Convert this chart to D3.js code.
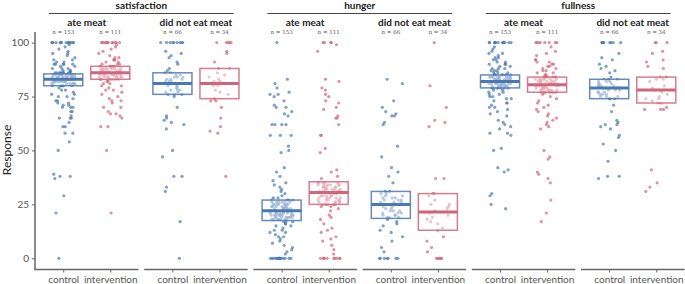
<!DOCTYPE html>
<html>
<head>
<meta charset="utf-8">
<script src="https://cdn.jsdelivr.net/npm/d3@7"></script>
<style>
  body { margin: 0; background: #fff; }
  svg { display: block; font-family: Lato, "Open Sans", sans-serif; }
</style>
</head>
<body>
<div id="chart"></div>
<script>
// values, as [response, count]
const satAteControl = [[0,1],[21,1],[29,1],[37,1],[38,2],[39,1],[50,1],[54,1],[58,2],[61,2],[63,1],[65,3],[66,1],[68,2],[70,3],[71,2],[72,2],[73,2],[74,1],[75,2],[76,2],[77,1],[78,2],[79,1],
  [80,6],[81,8],[82,10],[83,20],[84,10],[85,12],[86,10],
  [87,3],[88,3],[89,2],[90,5],[91,2],[92,2],[93,1],[94,1],[95,2],[96,1],[97,1],[98,1],[99,1],[100,14]];
const satAteInterv = [[21,1],[50,1],[61,2],[65,1],[66,1],[67,2],[68,1],[70,2],[72,1],[73,2],[74,1],[75,1],[76,1],[77,1],[78,2],[79,1],[80,2],[81,2],[82,2],
  [83,6],[84,8],[85,8],[86,12],[87,8],[88,8],[89,6],
  [90,3],[91,2],[92,3],[93,2],[94,1],[95,1],[96,1],[97,1],[98,1],[99,1],[100,12]];
const satNoControl = [[0,1],[17,1],[31,1],[33,1],[38,2],[47,1],[50,1],[60,1],[62,1],[63,1],[64,1],[65,1],[66,1],[70,1],[75,1],
  [76,3],[77,2],[78,3],[79,2],[80,3],[81,7],[82,3],[83,3],[84,3],[85,2],[86,2],
  [87,1],[88,1],[90,1],[91,1],[93,1],[94,1],[95,1],[96,1],[100,9]];
const satNoInterv = [[38,1],[58,1],[59,1],[61,1],[65,1],[70,1],[73,2],[74,1],[76,1],[77,1],[78,1],[80,2],[81,4],[82,2],[83,1],[84,1],[85,1],[86,1],[88,2],[91,1],[95,1],[96,1],[100,5]];

const hunAteControl = [[0,16],[2,1],[3,1],[4,1],[5,1],[6,1],[7,1],[8,1],[9,1],[10,2],[11,1],[12,2],[13,2],[14,1],[15,2],[16,2],[17,3],
  [18,7],[19,8],[20,10],[21,8],[22,11],[23,7],[24,7],[25,8],[26,6],[27,4],
  [28,2],[29,1],[30,1],[31,1],[32,1],[33,1],[34,1],[35,1],[36,1],[38,1],[40,1],[42,1],[49,1],[50,1],[52,1],[57,3],[62,4],[66,1],[67,1],[68,1],[70,2],[71,1],[73,1],[75,1],[76,2],[77,1],[79,1],[81,1],[83,1],[100,1]];
const hunAteInterv = [[0,10],[2,1],[4,1],[6,1],[8,1],[9,1],[10,1],[12,1],[13,1],[14,1],[16,1],[18,1],[19,1],[20,1],[22,1],[23,1],[24,2],
  [25,5],[26,5],[27,5],[28,5],[29,5],[30,4],[31,5],[32,5],[33,6],[34,6],[35,5],
  [37,1],[38,1],[40,1],[41,1],[49,1],[51,1],[57,2],[62,1],[65,2],[66,1],[69,1],[70,1],[72,1],[73,1],[75,1],[76,1],[78,1],[79,1],[82,1],[83,1],[96,1],[99,1],[100,4]];
const hunNoControl = [[0,7],[3,1],[5,1],[8,1],[10,1],[12,1],[13,1],[15,1],[16,1],[17,1],[18,1],
  [19,3],[20,3],[21,3],[22,3],[23,2],[24,2],[25,2],[26,3],[27,3],[28,3],[29,2],[30,2],[31,2],
  [35,1],[38,1],[40,1],[42,1],[47,1],[52,1],[62,1],[63,1],[66,2],[67,1],[68,1],[70,1],[73,1],[81,1],[83,1]];
const hunNoInterv = [[0,5],[3,1],[5,1],[8,1],[10,1],[13,1],[14,1],[16,1],[17,1],[18,1],[19,1],[20,1],[21,1],[22,1],[23,1],[24,1],[25,2],[27,1],[29,1],[30,2],[37,2],[61,1],[63,1],[64,1],[70,1],[80,1],[100,1]];

const fulAteControl = [[23,1],[25,1],[29,1],[30,1],[40,1],[41,1],[42,1],[50,1],[51,1],[57,1],[58,2],[60,1],[61,1],[62,1],[63,1],[64,1],[66,1],[67,1],[68,1],[69,1],[70,2],[71,1],[72,2],[73,1],[74,2],[75,2],[76,2],[77,2],[78,2],
  [79,7],[80,10],[81,11],[82,19],[83,11],[84,11],[85,8],
  [86,3],[87,3],[88,3],[89,2],[90,3],[91,2],[92,2],[93,2],[94,1],[95,2],[96,1],[97,1],[98,1],[100,13]];
const fulAteInterv = [[17,1],[21,1],[27,1],[35,1],[37,1],[39,1],[40,1],[46,1],[47,1],[50,1],[60,1],[61,1],[62,1],[63,1],[64,1],[65,1],[66,1],[67,1],[68,1],[69,1],[70,1],[71,1],[72,1],[73,1],[74,1],[75,1],[76,1],
  [77,6],[78,7],[79,7],[80,8],[81,7],[82,7],[83,7],[84,7],
  [85,2],[86,2],[87,2],[88,2],[89,2],[90,2],[91,2],[92,2],[94,1],[95,1],[96,1],[98,1],[100,8]];
const fulNoControl = [[37,1],[38,2],[45,1],[50,1],[53,1],[56,1],[57,1],[60,1],[61,1],[62,2],[63,1],[64,1],[68,1],[71,1],
  [74,3],[75,3],[76,3],[77,3],[78,3],[79,5],[80,4],[81,3],[82,3],[83,3],
  [84,1],[86,1],[87,1],[88,1],[89,1],[90,1],[92,1],[93,1],[95,1],[100,8]];
const fulNoInterv = [[31,1],[33,1],[35,1],[41,1],[69,3],[70,1],[72,2],[73,1],[74,2],[75,1],[76,1],[77,1],[78,2],[79,1],[80,1],[82,1],[83,2],[84,2],[88,1],[89,1],[91,1],[92,1],[95,1],[96,1],[100,3]];

// boxes: [lower, middle, upper]
const satBoxes = [[80,83,85.5],[83,86,89],[76,81,86],[74,81,88]];
const hunBoxes = [[17.5,22,27],[25,30.5,35.5],[18.5,25,31],[13,21.5,30]];
const fulBoxes = [[79,82,85],[77,80.5,84],[74,79,83],[72,78,84]];

const outcomes = ["satisfaction", "hunger", "fullness"];
const meatGroups = ["ate meat", "did not eat meat"];
const conditions = ["control", "intervention"];
const groupN = [153, 111, 66, 34];
const yTicks = [0, 25, 50, 75, 100];

const points = [
  [satAteControl, satAteInterv, satNoControl, satNoInterv],
  [hunAteControl, hunAteInterv, hunNoControl, hunNoInterv],
  [fulAteControl, fulAteInterv, fulNoControl, fulNoInterv]
];
const boxes = [satBoxes, hunBoxes, fulBoxes];

const colors = { control: "#4a78b0", intervention: "#d0657b" };

const W = 685, H = 284;
const left0 = 35, panelW = 103.5, panelStep = 109.2;
const axisY = 269.5;

// sideways spread for the jittered points: a fixed hash of the point index
function spread(n) {
  n = Math.imul(n ^ (n >>> 16), 0x85ebca6b);
  n = Math.imul(n ^ (n >>> 13), 0xc2b2ae35);
  n ^= n >>> 16;
  return (n >>> 0) / 4294967296;
}

const svg = d3.select("#chart").append("svg")
  .attr("width", W).attr("height", H);

const y = d3.scaleLinear().domain([0, 100]).range([258.3, 42.6]);

// y axis
const yAxis = svg.append("g")
  .attr("transform", "translate(" + left0 + ",0)")
  .call(d3.axisLeft(y).tickValues(yTicks).tickSize(3).tickPadding(3));
yAxis.select(".domain").remove();
yAxis.selectAll(".tick line").attr("stroke", "#666").attr("stroke-width", 1);
yAxis.selectAll(".tick text").attr("fill", "#555").style("font-size", "10px")
  .style("font-family", "Lato, sans-serif");
svg.append("line")
  .attr("x1", left0).attr("x2", left0)
  .attr("y1", 32).attr("y2", axisY + 0.5)
  .attr("stroke", "#666").attr("stroke-width", 1.5);

svg.append("text")
  .attr("transform", "translate(11,150) rotate(-90)")
  .attr("text-anchor", "middle")
  .style("font-size", "12px")
  .attr("fill", "#222")
  .text("Response");

outcomes.forEach((outcome, o) => {
  const gLeft = left0 + o * 2 * panelStep;
  const gRight = gLeft + panelStep + panelW;
  const gMid = (gLeft + gRight) / 2;

  svg.append("text")
    .attr("x", gMid).attr("y", 9)
    .attr("text-anchor", "middle")
    .style("font-size", "10px").style("font-weight", "bold")
    .attr("fill", "#222")
    .text(outcome);
  svg.append("line")
    .attr("x1", gLeft + 14).attr("x2", gRight - 14)
    .attr("y1", 13.5).attr("y2", 13.5)
    .attr("stroke", "#444").attr("stroke-width", 1);

  meatGroups.forEach((meat, m) => {
    const p = o * 2 + m;
    const left = left0 + p * panelStep;
    const x = d3.scalePoint().domain(conditions).range([left, left + panelW]).padding(0.6);
    const step = x.step();

    svg.append("text")
      .attr("x", left + panelW / 2).attr("y", 25.5)
      .attr("text-anchor", "middle")
      .style("font-size", "10px").style("font-weight", "bold")
      .attr("fill", "#222")
      .text(meat);

    const g = svg.append("g");

    conditions.forEach((cond, c) => {
      const k = m * 2 + c;
      const vals = points[o][k].flatMap(d => d3.range(d[1]).map(() => d[0]));
      const cx = x(cond);

      svg.append("text")
        .attr("x", cx).attr("y", 34)
        .attr("text-anchor", "middle")
        .style("font-size", "5.5px")
        .style("font-family", "'DejaVu Serif', serif")
        .attr("fill", "#555")
        .text("n = " + groupN[k]);

      g.selectAll(null)
        .data(vals)
        .join("circle")
        .attr("cx", (d, i) => cx + (spread(i + 1 + k * 997 + o * 7919) - 0.5) * 0.5 * step)
        .attr("cy", d => y(d))
        .attr("r", 1.6)
        .attr("fill", colors[cond])
        .attr("fill-opacity", 0.7);

      const b = boxes[o][k];
      const bw = step * 0.83;
      g.append("rect")
        .attr("x", cx - bw / 2).attr("width", bw)
        .attr("y", y(b[2])).attr("height", y(b[0]) - y(b[2]))
        .attr("fill", "#fff").attr("fill-opacity", 0.45)
        .attr("stroke", colors[cond]).attr("stroke-opacity", 0.85)
        .attr("stroke-width", 1.5);
      g.append("line")
        .attr("x1", cx - bw / 2).attr("x2", cx + bw / 2)
        .attr("y1", y(b[1])).attr("y2", y(b[1]))
        .attr("stroke", colors[cond]).attr("stroke-width", 3);
    });

    // bottom axis per panel
    const xAxis = svg.append("g")
      .attr("transform", "translate(0," + axisY + ")")
      .call(d3.axisBottom(x).tickSize(3).tickPadding(3));
    xAxis.select(".domain").remove();
    xAxis.selectAll(".tick line").attr("stroke", "#666");
    xAxis.selectAll(".tick text").attr("fill", "#555").style("font-size", "10px")
      .style("font-family", "Lato, sans-serif");
    svg.append("line")
      .attr("x1", p === 0 ? left - 0.75 : left).attr("x2", left + panelW)
      .attr("y1", axisY).attr("y2", axisY)
      .attr("stroke", "#666").attr("stroke-width", 1.5);
  });
});
</script>
</body>
</html>
